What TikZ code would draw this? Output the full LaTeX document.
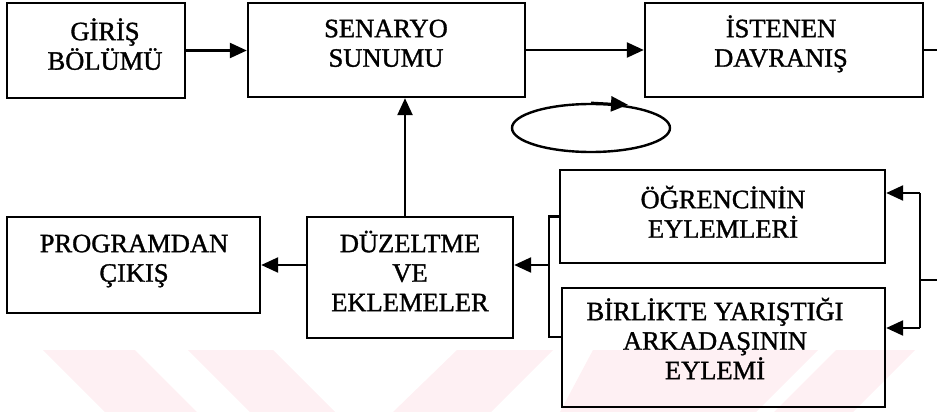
\documentclass[tikz,border=0pt]{standalone}
\usepackage{fontspec}
\setmainfont{Liberation Serif}[FakeBold=1.2]
\usetikzlibrary{arrows.meta,calc,shapes.geometric}
\definecolor{wm}{RGB}{254,240,243}
\begin{document}
\begin{tikzpicture}[x=1pt,y=-1pt,
  bx/.style={draw,line width=2.4pt,inner sep=0pt},
  txt/.style={anchor=north,inner sep=0pt,align=center,font=\fontsize{26.5}{29.5}\selectfont},
  ln/.style={line width=2.4pt},
  arr/.style={line width=2.4pt,-{Triangle[length=17pt,width=15pt]}}]
\useasboundingbox (0,0) rectangle (937,412);
% watermark stripes
\fill[wm] (43,350) -- (135,350) -- (197,412) -- (105,412) -- cycle;
\fill[wm] (188,350) -- (273,350) -- (335,412) -- (250,412) -- cycle;
\fill[wm] (457,350) -- (553,350) -- (491,412) -- (393,412) -- cycle;
\fill[wm] (593,350) -- (818,350) -- (756,412) -- (560,412) -- cycle;
\fill[wm] (836,350) -- (915,350) -- (853,412) -- (774,412) -- cycle;
% boxes
\node[bx,minimum width=178pt,minimum height=95pt] (gir) at (96,50.5) {};
\node[bx,minimum width=277pt,minimum height=94pt] (sen) at (386.5,50) {};
\node[bx,minimum width=278pt,minimum height=94pt] (ist) at (784,50) {};
\node[bx,minimum width=253pt,minimum height=96pt] (prog) at (133.5,265) {};
\node[bx,minimum width=206pt,minimum height=121pt] (duz) at (410,277.5) {};
\node[bx,minimum width=325pt,minimum height=93pt] (ogr) at (722.5,216.5) {};
\node[bx,minimum width=323pt,minimum height=119pt] (bir) at (723.5,347.5) {};
% texts
\node[txt] (tg) at (105,16) {\rule{0pt}{24pt}GİRİŞ\\BÖLÜMÜ};
\node[txt] (ts) at (386,13) {\rule{0pt}{24pt}SENARYO\\SUNUMU};
\node[txt] (ti) at (781,13) {\rule{0pt}{24pt}İSTENEN\\DAVRANIŞ};
\node[txt] (tp) at (134,228) {\rule{0pt}{24pt}PROGRAMDAN\\ÇIKIŞ};
\node[txt] (td) at (410,228) {\rule{0pt}{24pt}DÜZELTME\\VE\\EKLEMELER};
\node[txt] (to) at (723,184) {\rule{0pt}{24pt}ÖĞRENCİNİN\\EYLEMLERİ};
\node[txt] (tb) at (715,296) {\rule{0pt}{24pt}BİRLİKTE YARIŞTIĞI\\ARKADAŞININ\\EYLEMİ};
% ellipse
\node[draw,ellipse,line width=2.4pt,minimum width=158pt,minimum height=48pt,inner sep=0pt] (el) at (591,128) {};
\draw[arr] (el.north) -- ++(37,2);
% helper coordinates
\coordinate (xv) at (405,0);
\coordinate (bl) at (549,0);
\coordinate (br1) at (920,193);
\coordinate (br2) at (920,328);
\coordinate (r1) at (937,50);
\coordinate (r2) at (937,280);
\coordinate (blb) at (549,337);
% connectors
\draw[arr] (gir.east) -- (gir.east -| sen.west);
\draw[arr] (sen.east) -- (sen.east -| ist.west);
\draw[ln] (ist.east) -- (r1);
\draw[arr] (duz.north -| xv) -- (sen.south -| xv);
\draw[arr] (duz.west |- prog.east) -- (prog.east);
\draw[ln] (ogr.west) -- (ogr.west -| bl) -- (blb) -- (blb -| bir.west);
\draw[arr] (bl |- prog.east) -- (duz.east |- prog.east);
\draw[arr] (br1) -- (br1 -| ogr.east);
\draw[ln] (br1) -- (br2);
\draw[arr] (br2) -- (br2 -| bir.east);
\draw[ln] (r2) -- (r2 -| br1);
\end{tikzpicture}
\end{document}
